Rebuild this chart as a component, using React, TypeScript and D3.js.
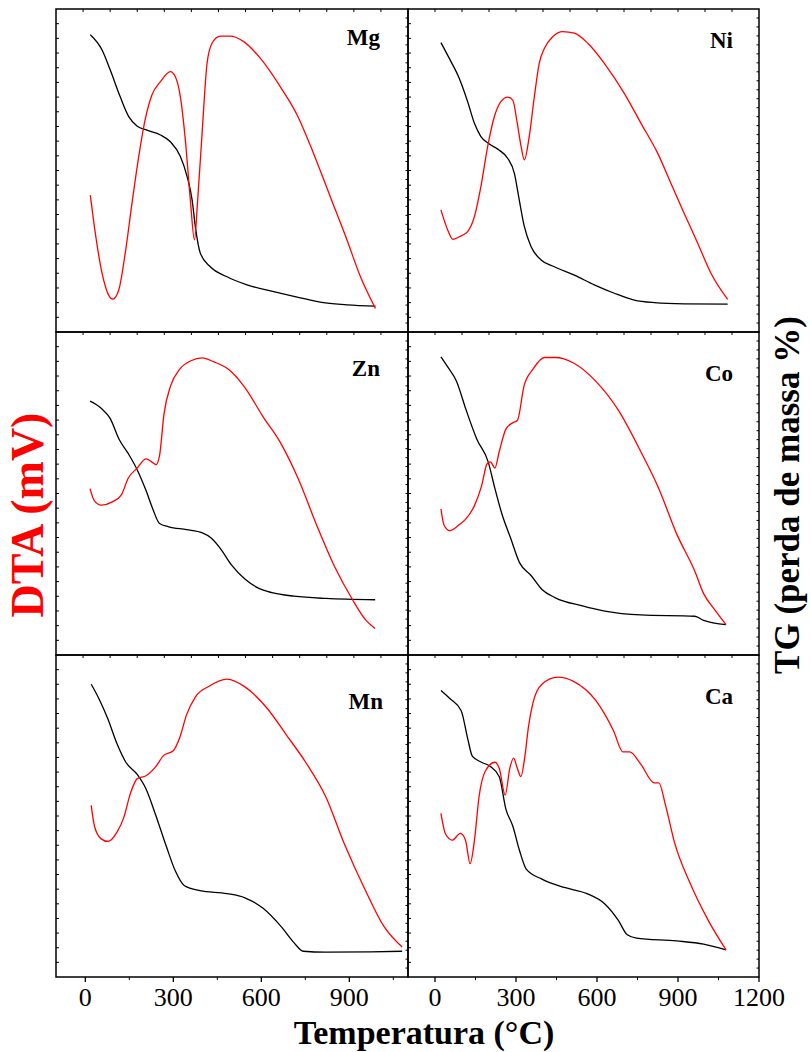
import React from "react";
import * as d3 from "d3";

type Pt = [number, number];

// ---- Data (temperature °C, signal in arbitrary units 0-100 of panel height) ----
const samples = ["Mg", "Ni", "Zn", "Co", "Mn", "Ca"];

const mgTG: Pt[] = [
  [17, 92.0], [57, 87.3], [85, 81.1], [119, 72.8], [148, 66.7], [176, 63.8], [210, 62.5],
  [256, 61.0], [290, 58.9], [324, 54.3], [347, 48.1], [364, 40.9], [375, 32.6], [392, 24.4],
  [426, 20.2], [483, 17.1], [551, 14.6], [642, 12.5], [733, 10.6], [812, 9.1], [892, 8.4], [989, 8.0],
];
const mgDTA: Pt[] = [
  [17, 42.4], [34, 30.6], [57, 18.2], [79, 11.5], [94, 10.2], [114, 13.0], [136, 24.4],
  [159, 39.8], [182, 54.3], [205, 66.2], [227, 73.4], [256, 77.5], [290, 80.6], [307, 79.0],
  [324, 72.8], [341, 59.4], [358, 40.9], [372, 28.5], [383, 40.9], [398, 61.5], [415, 83.2],
  [432, 89.4], [460, 91.6], [494, 91.6], [540, 89.9], [597, 84.7], [665, 75.9], [722, 67.2],
  [778, 55.3], [835, 41.9], [892, 28.5], [938, 17.1], [989, 7.3],
];

const niTG: Pt[] = [
  [22, 89.6], [53, 84.7], [90, 78.5], [121, 71.3], [146, 64.6], [170, 60.5], [201, 58.2],
  [238, 56.3], [269, 53.8], [294, 49.1], [312, 40.9], [331, 32.6], [356, 26.4], [393, 22.3],
  [442, 20.2], [516, 17.6], [590, 14.6], [664, 12.0], [738, 9.9], [812, 9.1], [923, 8.7], [1084, 8.6],
];
const niDTA: Pt[] = [
  [22, 37.8], [47, 31.6], [66, 28.7], [90, 29.5], [121, 31.1], [146, 35.7], [170, 45.0],
  [195, 57.4], [220, 66.7], [244, 71.3], [269, 72.7], [288, 71.8], [304, 65.0], [319, 57.4],
  [331, 53.3], [349, 60.5], [368, 72.9], [386, 83.2], [405, 87.8], [436, 91.4], [473, 93.0],
  [516, 92.5], [566, 89.4], [627, 83.2], [701, 73.9], [763, 64.6], [825, 55.3], [874, 46.0],
  [923, 36.7], [973, 27.5], [1022, 18.2], [1084, 10.1],
];

const znTG: Pt[] = [
  [16, 78.6], [54, 76.4], [85, 73.2], [115, 66.8], [146, 62.4], [177, 57.3], [207, 50.9],
  [230, 45.2], [253, 40.7], [284, 39.7], [345, 38.8], [399, 37.8], [429, 36.2], [460, 33.0],
  [498, 27.9], [544, 23.5], [590, 20.7], [636, 19.3], [712, 18.2], [820, 17.5], [988, 17.1],
];
const znDTA: Pt[] = [
  [16, 51.5], [31, 47.7], [54, 46.4], [92, 47.4], [123, 49.6], [146, 54.7], [177, 57.9],
  [207, 60.7], [226, 59.8], [241, 58.9], [253, 61.7], [268, 74.5], [291, 83.4], [322, 88.5],
  [360, 91.1], [399, 92.0], [437, 90.8], [490, 88.3], [544, 82.8], [605, 73.9], [666, 65.6],
  [728, 54.1], [789, 40.1], [850, 27.3], [911, 17.1], [957, 10.7], [988, 8.2],
];

const coTG: Pt[] = [
  [22, 92.3], [47, 89.2], [80, 84.7], [113, 76.4], [155, 66.8], [197, 59.8], [222, 51.5],
  [247, 43.9], [280, 36.2], [313, 28.6], [355, 24.7], [396, 20.3], [446, 17.7], [546, 15.2],
  [629, 13.6], [762, 12.4], [962, 12.0], [995, 10.7], [1078, 9.4],
];
const coDTA: Pt[] = [
  [22, 45.2], [34, 40.1], [55, 38.5], [89, 40.3], [113, 42.0], [147, 46.4], [172, 52.2],
  [193, 59.2], [205, 59.8], [222, 57.9], [238, 63.0], [263, 70.0], [288, 71.9], [305, 72.6],
  [330, 83.4], [363, 88.5], [405, 92.1], [446, 92.1], [513, 90.4], [596, 84.7], [679, 75.8],
  [762, 63.0], [829, 51.5], [895, 37.5], [962, 26.0], [995, 19.0], [1037, 13.9], [1078, 9.4],
];

const mnTG: Pt[] = [
  [20, 90.9], [46, 86.5], [77, 80.1], [108, 72.4], [138, 66.7], [177, 62.9], [207, 58.4],
  [238, 50.8], [276, 40.6], [307, 32.9], [337, 28.4], [391, 26.8], [483, 25.9], [544, 24.6],
  [605, 21.4], [667, 15.7], [712, 10.6], [743, 8.0], [819, 7.7], [973, 7.8], [1080, 8.0],
];
const mnDTA: Pt[] = [
  [20, 53.3], [31, 46.9], [54, 42.9], [77, 42.1], [108, 45.0], [131, 49.5], [154, 57.1],
  [177, 61.6], [207, 62.5], [238, 65.1], [268, 68.9], [299, 70.2], [322, 74.4], [345, 81.4],
  [376, 87.1], [422, 90.3], [483, 92.5], [544, 90.1], [621, 83.3], [682, 75.6], [751, 66.7],
  [820, 55.9], [881, 41.8], [957, 26.5], [1018, 15.7], [1080, 9.3],
];

const caTG: Pt[] = [
  [22, 89.0], [55, 86.5], [97, 82.7], [122, 73.7], [138, 68.6], [172, 66.7], [205, 65.4],
  [238, 62.2], [263, 52.0], [288, 46.9], [313, 39.3], [338, 33.5], [396, 30.4], [479, 27.8],
  [563, 25.9], [629, 22.7], [679, 17.6], [712, 13.1], [746, 12.1], [895, 11.2], [995, 10.2], [1078, 8.4],
];
const caDTA: Pt[] = [
  [22, 50.8], [39, 44.4], [64, 42.5], [94, 44.6], [113, 42.5], [130, 35.2], [147, 43.1],
  [163, 55.9], [188, 64.2], [222, 66.7], [238, 64.8], [260, 56.5], [277, 64.8], [291, 68.0],
  [305, 64.8], [318, 62.2], [333, 68.6], [346, 77.6], [363, 85.2], [396, 90.9], [455, 93.1],
  [513, 91.8], [596, 85.8], [662, 76.3], [696, 69.9], [721, 69.9], [762, 66.1], [812, 60.3],
  [829, 60.3], [854, 53.3], [887, 41.8], [945, 29.1], [1012, 17.6], [1078, 8.4],
];

const tgSeries = [mgTG, niTG, znTG, coTG, mnTG, caTG];
const dtaSeries = [mgDTA, niDTA, znDTA, coDTA, mnDTA, caDTA];

const xDomainLeft: [number, number] = [-100, 1100];
const xDomainRight: [number, number] = [-100, 1200];
const xMajorLeft = [0, 300, 600, 900];
const xMajorRight = [0, 300, 600, 900, 1200];
const xMinor = [150, 450, 750, 1050];

const xTitle = "Temperatura (°C)";
const yLeftTitle = "DTA (mV)";
const yRightTitle = "TG (perda de massa %)";

// ---- Layout ----
const W = 811;
const H = 1052;
const cols: [number, number][] = [[56, 408], [408, 759]];
const rows: [number, number][] = [[9, 332], [332, 655], [655, 977]];
const labelDy = [36, 39, 44, 49, 54, 49];
const labelRightPad = [28, 26, 28, 26, 25, 26];
const FONT = "'Liberation Serif', 'Times New Roman', serif";

export default function App() {
  const panels = samples.map((name, i) => {
    const c = i % 2;
    const r = Math.floor(i / 2);
    const [x0, x1] = cols[c];
    const [y0, y1] = rows[r];
    const x = d3.scaleLinear().domain(c === 0 ? xDomainLeft : xDomainRight).range([x0, x1]);
    const y = d3.scaleLinear().domain([0, 100]).range([y1, y0]);
    const line = d3
      .line<Pt>()
      .x((d) => x(d[0]))
      .y((d) => y(d[1]))
      .curve(d3.curveMonotoneX);
    const topScale = d3.scaleLinear().domain([0, 13]).range([x0, x1]);
    const leftScale = d3.scaleLinear().domain([0, 22]).range([y1, y0]);
    const rightScale = d3.scaleLinear().domain([0, 36]).range([y1, y0]);
    const topTicks = d3.range(1, 13).map((k) => topScale(k));
    const leftTicks = d3.range(1, 22).map((k) => leftScale(k));
    const rightTicks = d3.range(1, 36).map((k) => rightScale(k));
    const isBottom = r === rows.length - 1;
    const majors = c === 0 ? xMajorLeft : xMajorRight;
    return (
      <g key={name}>
        {topTicks.map((tx, k) => (
          <line key={"t" + k} x1={tx} x2={tx} y1={y0} y2={y0 + 3} stroke="#000" strokeWidth={1} />
        ))}
        {leftTicks.map((ty, k) => (
          <line key={"l" + k} x1={x0} x2={x0 + 3} y1={ty} y2={ty} stroke="#000" strokeWidth={1} />
        ))}
        {rightTicks.map((ty, k) => (
          <line key={"r" + k} x1={x1 - 2.5} x2={x1} y1={ty} y2={ty} stroke="#000" strokeWidth={1} />
        ))}
        {isBottom &&
          majors.map((v) => (
            <g key={"M" + v}>
              <line x1={x(v)} x2={x(v)} y1={y1} y2={y1 + 5} stroke="#000" strokeWidth={1.3} />
              <text
                x={x(v)}
                y={1006}
                textAnchor="middle"
                fontFamily={FONT}
                fontSize={26}
                fill="#000"
              >
                {String(v)}
              </text>
            </g>
          ))}
        {isBottom &&
          xMinor.map((v) => (
            <line key={"m" + v} x1={x(v)} x2={x(v)} y1={y1} y2={y1 + 3} stroke="#000" strokeWidth={1} />
          ))}
        <rect
          x={x0}
          y={y0}
          width={x1 - x0}
          height={y1 - y0}
          fill="none"
          stroke="#000"
          strokeWidth={1.5}
        />
        <path d={line(tgSeries[i]) || ""} fill="none" stroke="#000" strokeWidth={1.3} />
        <path d={line(dtaSeries[i]) || ""} fill="none" stroke="#ff0000" strokeWidth={1.3} />
        <text
          x={x1 - labelRightPad[i]}
          y={y0 + labelDy[i]}
          textAnchor="end"
          fontFamily={FONT}
          fontWeight="bold"
          fontSize={23}
          fill="#000"
        >
          {name}
        </text>
      </g>
    );
  });

  return (
    <div style={{ position: "absolute", left: 0, top: 0 }}>
      <svg width={W} height={H} viewBox={`0 0 ${W} ${H}`} style={{ display: "block", background: "#fff" }}>
        <rect x={0} y={0} width={W} height={H} fill="#fff" />
        {panels}
        <text
          x={424}
          y={1044}
          textAnchor="middle"
          fontFamily={FONT}
          fontWeight="bold"
          fontSize={34}
          fill="#000"
        >
          {xTitle}
        </text>
        <text
          transform="translate(43,515) rotate(-90)"
          textAnchor="middle"
          fontFamily={FONT}
          fontWeight="bold"
          fontSize={46}
          fill="#ff0000"
        >
          {yLeftTitle}
        </text>
        <text
          transform="translate(799,495) rotate(-90)"
          textAnchor="middle"
          fontFamily={FONT}
          fontWeight="bold"
          fontSize={35}
          fill="#000"
        >
          {yRightTitle}
        </text>
      </svg>
    </div>
  );
}
